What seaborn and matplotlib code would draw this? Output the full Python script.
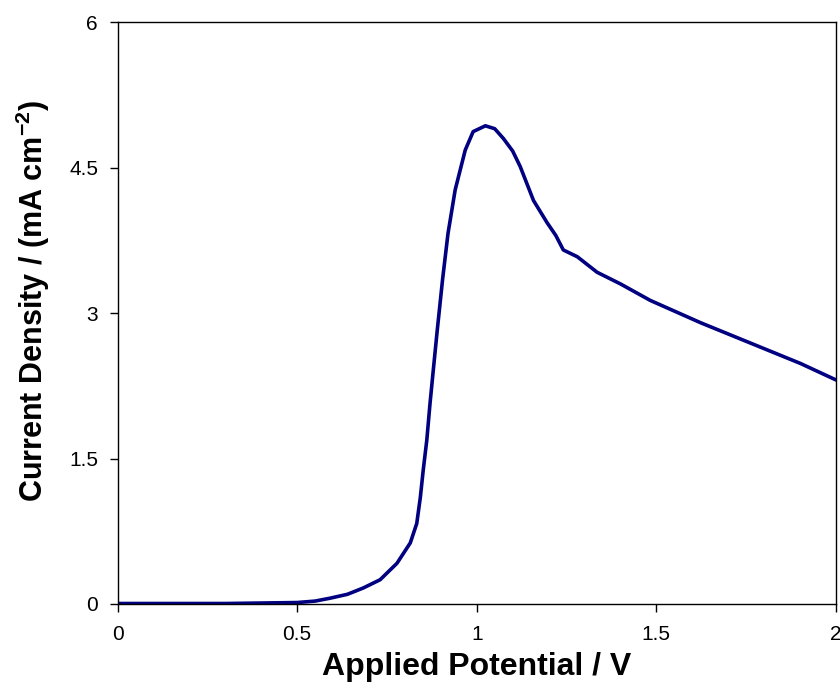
import numpy as np
import pandas as pd
import matplotlib
matplotlib.use("Agg")
import matplotlib.pyplot as plt
import seaborn as sns

# Data
potential = [0.0, 0.1, 0.2, 0.3, 0.4, 0.5, 0.55, 0.592, 0.64, 0.684, 0.731,
             0.778, 0.815, 0.833, 0.843, 0.851, 0.861, 0.870, 0.879, 0.890,
             0.905, 0.92, 0.94, 0.968, 0.99, 1.024, 1.05, 1.074, 1.10, 1.121,
             1.158, 1.196, 1.22, 1.241, 1.28, 1.335, 1.40, 1.483, 1.623,
             1.762, 1.901, 2.0]
current = [0.005, 0.005, 0.005, 0.005, 0.01, 0.015, 0.03, 0.06, 0.1, 0.165,
           0.25, 0.42, 0.63, 0.83, 1.10, 1.38, 1.69, 2.07, 2.41, 2.82, 3.35,
           3.82, 4.27, 4.68, 4.87, 4.93, 4.90, 4.80, 4.67, 4.51, 4.16, 3.93,
           3.80, 3.65, 3.58, 3.42, 3.30, 3.13, 2.90, 2.69, 2.48, 2.31]

x_ticks = [0, 0.5, 1, 1.5, 2]
x_labels = ["0", "0.5", "1", "1.5", "2"]
y_ticks = [0, 1.5, 3, 4.5, 6]
y_labels = ["0", "1.5", "3", "4.5", "6"]

df = pd.DataFrame({"potential": potential, "current": current})

sns.set_style("ticks")
plt.rcParams["font.family"] = ["Liberation Sans", "DejaVu Sans"]
plt.rcParams["mathtext.fontset"] = "custom"
plt.rcParams["mathtext.rm"] = "Liberation Sans"
plt.rcParams["mathtext.bf"] = "Liberation Sans:bold"
plt.rcParams["text.color"] = "black"
plt.rcParams["axes.labelcolor"] = "black"

fig = plt.figure(figsize=(8.4, 6.88), dpi=100)
ax = fig.add_axes([0.1399, 0.1221, 0.8553, 0.8459])

sns.lineplot(data=df, x="potential", y="current", ax=ax,
             color="#000080", linewidth=2.6, sort=False)

ax.set_xlim(0, 2)
ax.set_ylim(0, 6)
ax.set_xticks(x_ticks)
ax.set_xticklabels(x_labels)
ax.set_yticks(y_ticks)
ax.set_yticklabels(y_labels)

for s in ax.spines.values():
    s.set_visible(True)
    s.set_color("black")
    s.set_linewidth(1.0)

ax.tick_params(axis="both", direction="out", length=6, width=1,
               labelsize=15, colors="black")
ax.tick_params(axis="x", pad=9)
ax.tick_params(axis="y", pad=8)

ax.set_xlabel("Applied Potential / V", fontsize=23, fontweight="bold",
              labelpad=6)
ax.set_ylabel(r"Current Density / (mA cm$^{\mathbf{-2}}$)", fontsize=22,
              fontweight="bold", labelpad=12, y=0.52)

fig.savefig("out.png", dpi=100)
plt.close(fig)
